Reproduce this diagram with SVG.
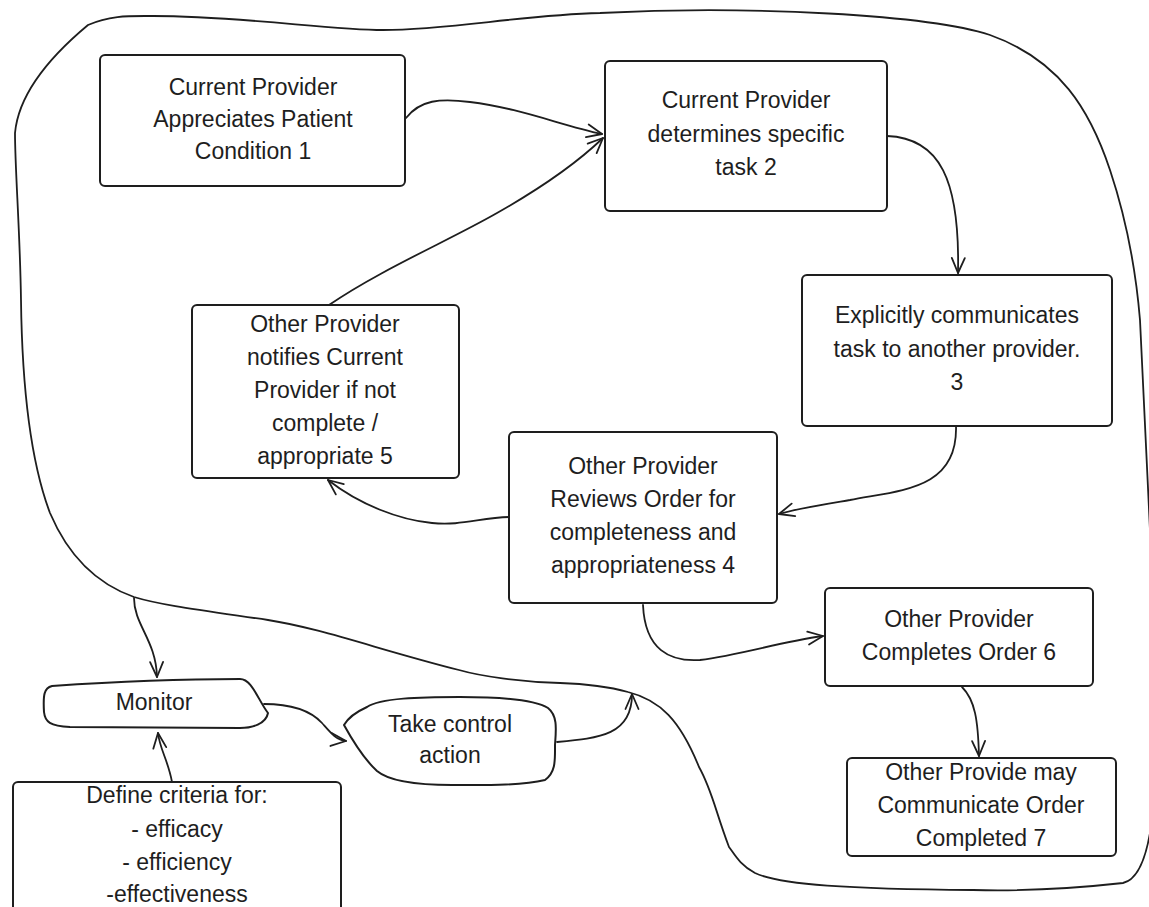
<svg xmlns="http://www.w3.org/2000/svg" width="1149" height="907" viewBox="0 0 1149 907">
<style>
.box{fill:#fff;stroke:#1e1e1e;stroke-width:2;}
.shape{fill:#fff;stroke:#1e1e1e;stroke-width:2;stroke-linejoin:round;}
.t{font-family:"Liberation Sans",Arial,sans-serif;font-size:23px;fill:#1e1e1e;text-anchor:middle;}
.c{fill:none;stroke:#1e1e1e;stroke-width:1.8;stroke-linecap:round;}
</style>
<defs>
<marker id="ah" markerUnits="userSpaceOnUse" markerWidth="24" markerHeight="24" refX="0" refY="0" viewBox="-20 -12 24 24" orient="auto" overflow="visible">
<path d="M -15,-6.5 L 0,0 L -15,6.5" fill="none" stroke="#1e1e1e" stroke-width="1.8" stroke-linecap="round" stroke-linejoin="round"/>
</marker>
</defs>
<rect width="1149" height="907" fill="#fff"/>
<g id="connectors">
<path class="c" d="M 153,16 C 240,16 330,30 383,30 C 450,30 520,15 600,13 C 750,5 930,15 990,35 C 1060,60 1090,110 1110,170 C 1125,215 1135,260 1140,320 C 1144,400 1147,470 1150,530 C 1154,600 1156,700 1155,780 C 1153,830 1145,878 1123,883 C 1060,890 1010,891 973,890 C 850,889 780,885 755,873 C 740,865 735,855 729,847 C 715,810 712,790 699,767 C 680,720 660,700 628,692 C 610,687 590,684 560,683 C 520,682 480,676 459,670 C 380,650 320,628 268,620 C 200,610 160,605 134,597 C 100,585 70,560 50,513 C 30,460 22,380 21,300 C 20,230 15,170 15,133 C 18,100 40,65 88,25 C 110,15 130,16 153,16 Z"/>
<path class="c" marker-end="url(#ah)" d="M 406,118 C 420,100 440,98 470,102 C 520,108 560,125 602,134"/>
<path class="c" marker-end="url(#ah)" d="M 329,305 C 380,270 450,240 497,213 C 550,183 580,160 603,138"/>
<path class="c" marker-end="url(#ah)" d="M 887,136 C 940,138 960,180 958,273"/>
<path class="c" marker-end="url(#ah)" d="M 956,426 C 958,490 900,490 850,500 C 820,505 800,508 779,514"/>
<path class="c" marker-end="url(#ah)" d="M 509,517 C 480,518 460,526 432,523 C 400,520 360,505 328,480"/>
<path class="c" marker-end="url(#ah)" d="M 643,605 C 645,650 670,662 700,660 C 740,655 780,642 823,636"/>
<path class="c" marker-end="url(#ah)" d="M 962,687 C 975,700 978,720 979,756"/>
<path class="c" marker-end="url(#ah)" d="M 134,598 C 134,625 156,640 157,677"/>
<path class="c" marker-end="url(#ah)" d="M 264,704 C 290,704 310,710 322,723 C 330,732 336,740 346,741"/>
<path class="c" marker-end="url(#ah)" d="M 557,742 C 600,738 632,735 632,694"/>
<path class="c" marker-end="url(#ah)" d="M 172,782 C 168,760 160,750 158,733"/>
</g>
<g id="n1">
<rect class="box" x="100" y="55" width="305" height="131" rx="5"/>
<text class="t" x="253" y="95">Current Provider</text>
<text class="t" x="253" y="127">Appreciates Patient</text>
<text class="t" x="253" y="159">Condition 1</text>
</g>
<g id="n2">
<rect class="box" x="605" y="61" width="282" height="150" rx="5"/>
<text class="t" x="746" y="108">Current Provider</text>
<text class="t" x="746" y="142">determines specific</text>
<text class="t" x="746" y="175">task 2</text>
</g>
<g id="n3">
<rect class="box" x="802" y="275" width="310" height="151" rx="5"/>
<text class="t" x="957" y="323">Explicitly communicates</text>
<text class="t" x="957" y="357">task to another provider.</text>
<text class="t" x="957" y="390">3</text>
</g>
<g id="n5">
<rect class="box" x="192" y="305" width="267" height="173" rx="5"/>
<text class="t" x="325" y="332">Other Provider</text>
<text class="t" x="325" y="365">notifies Current</text>
<text class="t" x="325" y="398">Provider if not</text>
<text class="t" x="325" y="431">complete /</text>
<text class="t" x="325" y="464">appropriate 5</text>
</g>
<g id="n4">
<rect class="box" x="509" y="432" width="268" height="171" rx="5"/>
<text class="t" x="643" y="474">Other Provider</text>
<text class="t" x="643" y="507">Reviews Order for</text>
<text class="t" x="643" y="540">completeness and</text>
<text class="t" x="643" y="573">appropriateness 4</text>
</g>
<g id="n6">
<rect class="box" x="825" y="588" width="268" height="98" rx="5"/>
<text class="t" x="959" y="627">Other Provider</text>
<text class="t" x="959" y="660">Completes Order 6</text>
</g>
<g id="n7">
<rect class="box" x="847" y="758" width="269" height="98" rx="5"/>
<text class="t" x="981" y="780">Other Provide may</text>
<text class="t" x="981" y="813">Communicate Order</text>
<text class="t" x="981" y="846">Completed 7</text>
</g>
<g id="monitor">
<path class="shape" d="M 52,686 C 110,682 170,679 240,679 C 252,679 258,700 268,713 C 266,724 252,728 240,728 L 70,727 C 50,726 45,722 44,712 C 43,695 44,688 52,686 Z"/>
<text class="t" x="154" y="710">Monitor</text>
</g>
<g id="control">
<path class="shape" d="M 367,707 C 380,698 420,697 460,697 C 500,697 535,700 548,708 C 558,716 556,730 555,745 C 555,760 556,772 545,780 C 520,786 480,785 452,785 C 420,785 390,782 377,771 C 365,760 355,745 344,725 C 348,718 356,712 367,707 Z"/>
<text class="t" x="450" y="732">Take control</text>
<text class="t" x="450" y="763">action</text>
</g>
<g id="criteria">
<rect class="box" x="13" y="782" width="328" height="140" rx="5"/>
<text class="t" x="177" y="803">Define criteria for:</text>
<text class="t" x="177" y="837">- efficacy</text>
<text class="t" x="177" y="870">- efficiency</text>
<text class="t" x="177" y="902">-effectiveness</text>
</g>
</svg>
